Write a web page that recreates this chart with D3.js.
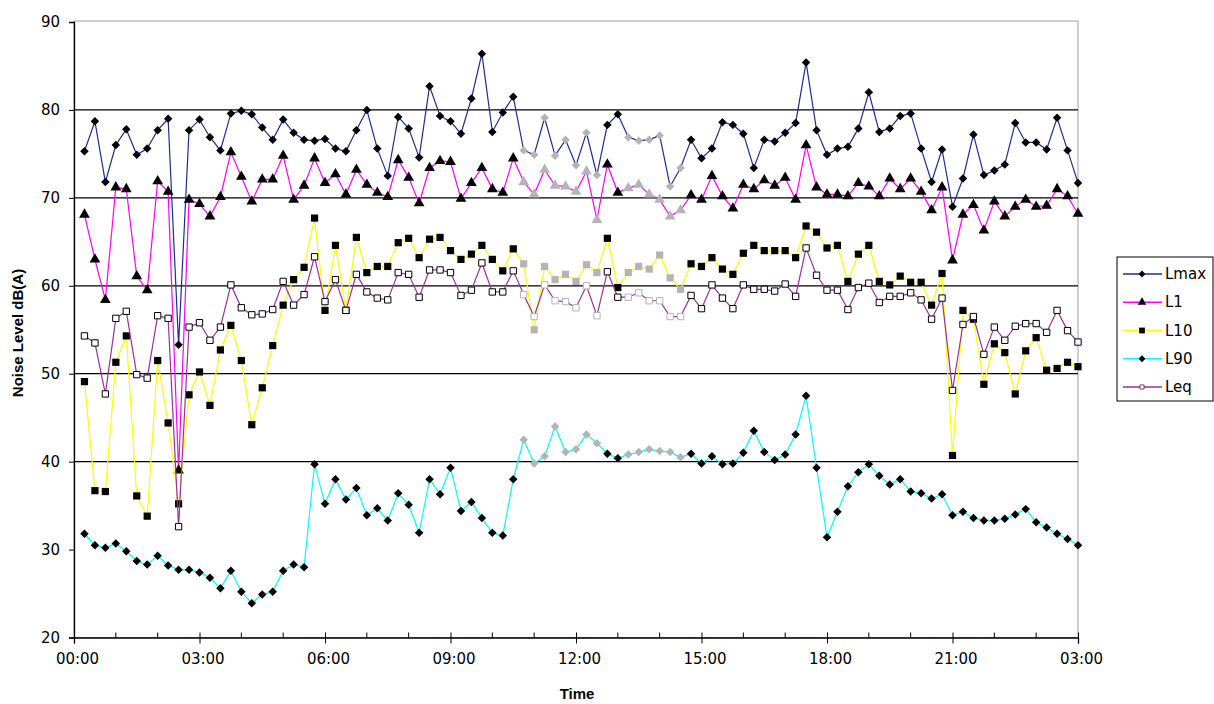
<!DOCTYPE html>
<html><head><meta charset="utf-8">
<script src="https://cdn.jsdelivr.net/npm/d3@7/dist/d3.min.js"></script>
<style>
body{margin:0;background:#fff;}
svg text{font-family:"Liberation Sans",Arial,sans-serif;fill:#000;}
</style>
</head><body>
<svg id="chart" width="1214" height="704"></svg>
<script>
// ---- data (15-minute intervals ending 00:15 ... 24:00) ----
const times = [
"00:15","00:30","00:45","01:00","01:15","01:30","01:45","02:00","02:15","02:30","02:45","03:00",
"03:15","03:30","03:45","04:00","04:15","04:30","04:45","05:00","05:15","05:30","05:45","06:00",
"06:15","06:30","06:45","07:00","07:15","07:30","07:45","08:00","08:15","08:30","08:45","09:00",
"09:15","09:30","09:45","10:00","10:15","10:30","10:45","11:00","11:15","11:30","11:45","12:00",
"12:15","12:30","12:45","13:00","13:15","13:30","13:45","14:00","14:15","14:30","14:45","15:00",
"15:15","15:30","15:45","16:00","16:15","16:30","16:45","17:00","17:15","17:30","17:45","18:00",
"18:15","18:30","18:45","19:00","19:15","19:30","19:45","20:00","20:15","20:30","20:45","21:00",
"21:15","21:30","21:45","22:00","22:15","22:30","22:45","23:00","23:15","23:30","23:45","24:00"];

const lmax = [75.3,78.7,71.8,76.0,77.8,74.9,75.6,77.7,79.0,53.3,77.7,78.9,
76.9,75.4,79.6,79.9,79.5,78.0,76.6,78.9,77.4,76.6,76.5,76.7,
75.6,75.3,77.7,80.0,75.6,72.5,79.2,77.9,74.6,82.7,79.3,78.7,
77.3,81.3,86.4,77.5,79.7,81.5,75.4,74.9,79.1,74.8,76.6,73.7,
77.4,72.6,78.3,79.5,76.9,76.5,76.6,77.1,71.3,73.4,76.6,74.5,
75.6,78.6,78.3,77.3,73.4,76.6,76.4,77.4,78.5,85.4,77.7,74.9,
75.6,75.8,77.9,82.0,77.5,77.9,79.3,79.6,75.6,71.8,75.5,69.0,
72.2,77.2,72.6,73.1,73.8,78.5,76.3,76.3,75.5,79.1,75.4,71.7];

const l1 = [68.1,63.0,58.4,71.2,71.0,61.1,59.5,71.9,70.7,39.0,69.8,69.3,
67.9,70.1,75.2,72.4,69.6,72.1,72.1,74.8,69.8,71.4,74.5,71.7,
72.7,70.4,73.2,71.5,70.6,70.1,74.3,72.3,69.4,73.4,74.2,74.1,
69.9,71.7,73.4,71.0,70.6,74.5,71.8,70.4,73.2,71.4,71.3,70.7,
73.0,67.5,73.8,70.6,71.1,71.5,70.4,69.8,67.9,68.6,70.3,69.8,
72.5,70.2,68.8,71.5,71.0,72.0,71.4,72.3,69.8,76.0,71.2,70.4,
70.4,70.2,71.7,71.3,70.2,72.2,71.0,72.2,70.7,68.6,71.2,62.9,
68.1,69.2,66.3,69.6,67.9,69.0,69.8,69.0,69.1,71.0,70.2,68.2];

const l10 = [49.1,36.7,36.6,51.3,54.3,36.1,33.8,51.5,44.4,35.2,47.6,50.2,
46.4,52.7,55.5,51.5,44.2,48.4,53.2,57.8,60.7,62.1,67.7,57.2,
64.6,57.2,65.5,61.5,62.2,62.2,64.9,65.4,63.2,65.3,65.5,64.0,
63.0,63.6,64.6,63.0,61.7,64.2,62.5,55.0,62.2,60.7,61.3,60.5,
62.4,61.5,65.4,59.8,61.5,62.2,61.9,63.5,60.9,59.6,62.5,62.2,
63.2,61.9,61.3,63.7,64.6,64.0,64.0,64.0,63.2,66.8,66.1,64.3,
64.6,60.5,63.6,64.6,60.5,60.1,61.1,60.4,60.4,57.8,61.4,40.7,
57.2,56.2,48.8,53.4,52.4,47.7,52.6,54.1,50.4,50.6,51.3,50.8];

const l90 = [31.8,30.5,30.2,30.7,29.8,28.7,28.3,29.3,28.2,27.7,27.7,27.4,
26.8,25.6,27.6,25.2,23.9,24.9,25.2,27.6,28.3,28.0,39.7,35.2,
38.0,35.7,37.0,33.9,34.7,33.3,36.4,35.1,31.9,38.0,36.3,39.3,
34.4,35.4,33.6,31.9,31.6,38.0,42.5,39.8,40.6,44.0,41.1,41.4,
43.1,42.1,40.9,40.4,40.8,41.1,41.4,41.2,41.1,40.5,40.9,39.8,
40.6,39.7,39.8,41.0,43.5,41.1,40.2,40.8,43.1,47.5,39.3,31.4,
34.3,37.2,38.8,39.7,38.4,37.4,38.0,36.6,36.4,35.8,36.3,33.9,
34.3,33.6,33.3,33.3,33.5,34.0,34.6,33.1,32.5,31.8,31.2,30.5];

const leq = [54.3,53.5,47.7,56.3,57.1,49.9,49.5,56.6,56.3,32.6,55.3,55.8,
53.8,55.3,60.1,57.5,56.7,56.8,57.3,60.5,57.8,59.0,63.3,58.2,
60.7,57.2,61.3,59.3,58.6,58.4,61.5,61.3,58.7,61.8,61.8,61.5,
58.9,59.5,62.6,59.3,59.3,61.7,59.0,56.5,60.1,58.3,58.2,57.5,
60.0,56.6,61.6,58.7,58.7,59.2,58.3,58.3,56.5,56.5,58.9,57.4,
60.1,58.6,57.4,60.1,59.6,59.6,59.4,60.2,58.8,64.3,61.2,59.5,
59.5,57.3,59.8,60.3,58.1,58.8,58.8,59.2,58.4,56.2,58.6,48.1,
55.6,56.5,52.2,55.3,53.8,55.4,55.7,55.7,54.7,57.2,54.9,53.6];

// intervals whose markers are shown in grey
const greyTimes = ["10:45","11:00","11:15","11:30","11:45","12:00","12:15","12:30",
"13:15","13:30","13:45","14:00","14:15","14:30"];

const seriesNames = ["Lmax","L1","L10","L90","Leq"];
const xTickLabels = ["00:00","03:00","06:00","09:00","12:00","15:00","18:00","21:00","03:00"];
const yTicks = [20,30,40,50,60,70,80,90];
const gridValues = [40,50,60,70,80];

// ---- drawing ----
const svg = d3.select("#chart");
const L = 74, R = 1078, T = 22, B = 637.5;
const toMin = s => { const [h,m] = s.split(":").map(Number); return h*60+m; };
const x = d3.scaleLinear().domain([0,1440]).range([L,R]);
const y = d3.scaleLinear().domain([20,90]).range([B,T]);

// plot frame
svg.append("rect").attr("x",L).attr("y",T-1).attr("width",R-L).attr("height",B-T+1)
  .attr("fill","#fff").attr("stroke","#a0a0a0").attr("stroke-width",1);

// gridlines
svg.append("g").selectAll("line").data(gridValues).join("line")
  .attr("x1",L).attr("x2",R).attr("y1",d=>y(d)).attr("y2",d=>y(d))
  .attr("stroke","#000").attr("stroke-width",1.3);

// y axis
const yAxis = d3.axisLeft(y).tickValues(yTicks).tickSize(5).tickPadding(9).tickFormat(d3.format("d"));
const gy = svg.append("g").attr("transform",`translate(${L},0)`).call(yAxis);
gy.select(".domain").attr("stroke","#000").attr("stroke-width",1.3);
gy.selectAll(".tick line").attr("stroke","#000");
gy.selectAll(".tick text").attr("font-size",15).attr("fill","#222").style("font-family","'DejaVu Sans',sans-serif");

// x axis: major ticks every 3h (labelled), minor every hour
const majorVals = d3.range(0,9).map(i=>i*180);
const xAxis = d3.axisBottom(x).tickValues(majorVals).tickSize(6).tickPadding(10)
  .tickFormat((d,i)=>xTickLabels[i]);
const gx = svg.append("g").attr("transform",`translate(0,${B})`).call(xAxis);
gx.select(".domain").attr("stroke","#000").attr("stroke-width",1.3);
gx.selectAll(".tick line").attr("stroke","#000").attr("y1",-5);
gx.selectAll(".tick text").attr("font-size",15).attr("fill","#222").attr("dx",3)
  .style("font-family","'DejaVu Sans',sans-serif");
const minorVals = d3.range(0,25).filter(h=>h%3!==0).map(h=>h*60);
svg.append("g").selectAll("line").data(minorVals).join("line")
  .attr("x1",d=>x(d)).attr("x2",d=>x(d)).attr("y1",B-5).attr("y2",B)
  .attr("stroke","#000");

// axis titles
svg.append("text").attr("transform","translate(23,333) rotate(-90)")
  .attr("text-anchor","middle").attr("font-size",15).attr("font-weight","bold")
  .text("Noise Level dB(A)");
svg.append("text").attr("x",577).attr("y",699).attr("text-anchor","middle")
  .attr("font-size",15).attr("font-weight","bold").text("Time");

// series definitions
const series = [
  {name:"Lmax", values:lmax, color:"#1f2e8c", marker:"diamond"},
  {name:"L1",   values:l1,   color:"#ff00ff", marker:"triangle"},
  {name:"L10",  values:l10,  color:"#ffff00", marker:"square"},
  {name:"L90",  values:l90,  color:"#00ffff", marker:"diamond"},
  {name:"Leq",  values:leq,  color:"#993399", marker:"open"}
];
const greySet = new Set(greyTimes);

const symGen = {
  diamond: d3.symbol().type(d3.symbolDiamond2 || d3.symbolDiamond).size(46),
  triangle: d3.symbol().type(d3.symbolTriangle).size(50),
  square: d3.symbol().type(d3.symbolSquare).size(52),
  open: d3.symbol().type(d3.symbolSquare).size(40)
};
function drawMarker(g, type, isGrey){
  const p = g.append("path").attr("d", symGen[type]());
  if(type==="open"){
    p.attr("fill","#fff").attr("stroke", isGrey?"#b4b4b4":"#000").attr("stroke-width",1);
  } else {
    p.attr("fill", isGrey?"#b4b4b4":"#000");
  }
  return p;
}

const line = d3.line().x(d=>x(toMin(d.t))).y(d=>y(d.v));
series.forEach(s=>{
  const pts = times.map((t,i)=>({t, v:s.values[i]}));
  const g = svg.append("g");
  g.append("path").datum(pts).attr("d",line).attr("fill","none")
    .attr("stroke",s.color).attr("stroke-width",1.2);
  pts.forEach(p=>{
    const mg = g.append("g").attr("transform",`translate(${x(toMin(p.t))},${y(p.v)})`);
    drawMarker(mg, s.marker, greySet.has(p.t));
  });
});

// legend
const lg = svg.append("g");
lg.append("rect").attr("x",1117).attr("y",257).attr("width",96).attr("height",144)
  .attr("fill","#fff").attr("stroke","#000").attr("stroke-width",1);
const ly = d3.scalePoint().domain(seriesNames).range([274,387]);
series.forEach(s=>{
  const yy = ly(s.name);
  lg.append("line").attr("x1",1123).attr("x2",1162).attr("y1",yy).attr("y2",yy)
    .attr("stroke",s.color).attr("stroke-width",1.5);
  const mg = lg.append("g").attr("transform",`translate(1142,${yy})`);
  drawMarker(mg, s.marker, false).attr("transform", s.marker==="open"?"scale(0.65)":"scale(0.8)");
  lg.append("text").attr("x",1165).attr("y",yy+5).attr("font-size",15)
    .style("font-family","'DejaVu Sans',sans-serif").attr("fill","#222").text(s.name);
});
</script>
</body></html>
